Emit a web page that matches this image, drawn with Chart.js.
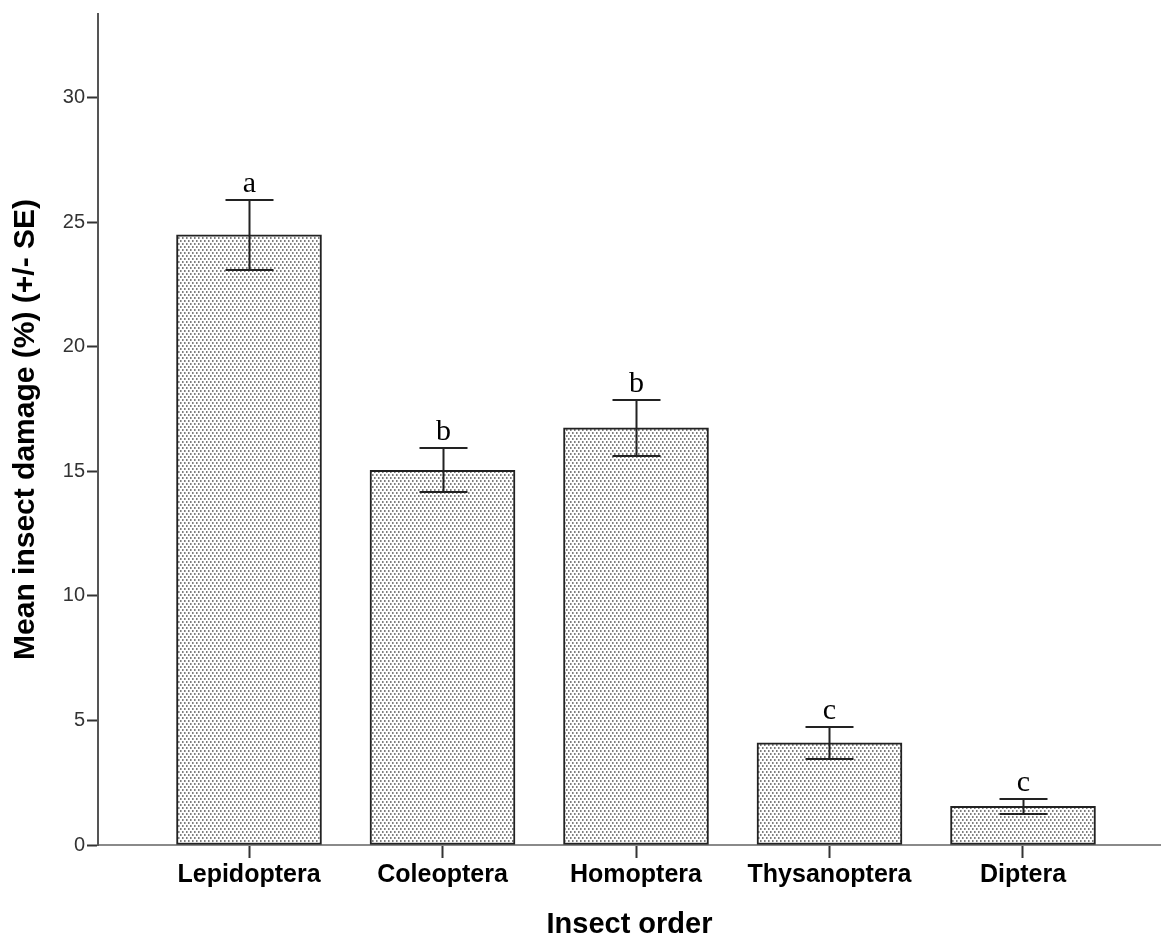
<!DOCTYPE html>
<html>
<head>
<meta charset="utf-8">
<script src="https://cdn.jsdelivr.net/npm/chart.js@4/dist/chart.umd.min.js"></script>
<style>
  html, body { margin: 0; padding: 0; background: #fff; }
  #wrap { width: 1161px; height: 937px; position: relative; }
</style>
</head>
<body>
<div id="wrap"><canvas id="damageChart"></canvas></div>
<script>
// insect orders on the x axis
const categories = ['Lepidoptera', 'Coleoptera', 'Homoptera', 'Thysanoptera', 'Diptera'];
// mean damage (%) and standard error
const means = [24.5, 15.05, 16.75, 4.1, 1.55];
const seValues = [1.4, 0.88, 1.12, 0.63, 0.31];
// significance letters above the bars
const groupLetters = ['a', 'b', 'b', 'c', 'c'];
// y axis tick values
const yTicks = [0, 5, 10, 15, 20, 25, 30];

const sansFont = '"Liberation Sans", Arial, sans-serif';
const serifFont = '"Liberation Serif", "Times New Roman", serif';

// dotted fill for the bars
function makeDotPattern() {
    const tile = document.createElement('canvas');
    tile.width = 4;
    tile.height = 6;
    const t = tile.getContext('2d');
    t.fillStyle = '#ffffff';
    t.fillRect(0, 0, 4, 6);
    t.fillStyle = '#7e7e7e';
    t.fillRect(0, 0, 1, 2);
    t.fillRect(2, 3, 1, 2);
    t.fillStyle = '#b4b4b4';
    t.fillRect(1, 0, 1, 2);
    t.fillRect(3, 3, 1, 2);
    return t.createPattern(tile, 'repeat');
}

// error bars with caps plus the letter above each one
const errorBarPlugin = {
    id: 'errorBars',
    afterDatasetsDraw(chart) {
        const ctx = chart.ctx;
        const xs = chart.scales.x;
        const ys = chart.scales.y;
        const capHalf = 24;
        ctx.save();
        ctx.strokeStyle = '#222';
        ctx.lineWidth = 2;
        categories.forEach((c, i) => {
            const x = Math.round(xs.getPixelForValue(i)) + 0.5;
            const yHi = Math.round(ys.getPixelForValue(means[i] + seValues[i]));
            const yLo = Math.round(ys.getPixelForValue(means[i] - seValues[i]));
            ctx.beginPath();
            ctx.moveTo(x, yHi);
            ctx.lineTo(x, yLo);
            ctx.moveTo(x - capHalf, yHi);
            ctx.lineTo(x + capHalf, yHi);
            ctx.moveTo(x - capHalf, yLo);
            ctx.lineTo(x + capHalf, yLo);
            ctx.stroke();

            ctx.fillStyle = '#000';
            ctx.font = '30px ' + serifFont;
            ctx.textAlign = 'center';
            ctx.textBaseline = 'alphabetic';
            ctx.fillText(groupLetters[i], x, yHi - 8);
        });
        ctx.restore();
    }
};

function initChart() {
    const ctx = document.getElementById('damageChart').getContext('2d');

    new Chart(ctx, {
        type: 'bar',
        data: {
            datasets: [{
                data: categories.map((c, i) => ({ x: i, y: means[i] })),
                backgroundColor: makeDotPattern(),
                borderColor: '#222',
                borderWidth: 2,
                borderSkipped: false,
                barThickness: 145
            }]
        },
        options: {
            responsive: true,
            maintainAspectRatio: false,
            animation: false,
            layout: { padding: { top: 13, left: 0, right: 0, bottom: 0 } },
            plugins: {
                legend: { display: false },
                tooltip: { enabled: false }
            },
            scales: {
                x: {
                    type: 'linear',
                    offset: false,
                    min: -0.7804,
                    max: 4.7132,
                    afterBuildTicks(scale) {
                        scale.ticks = categories.map((c, i) => ({ value: i }));
                    },
                    afterFit(scale) {
                        scale.height = 92;
                    },
                    grid: {
                        offset: false,
                        drawOnChartArea: false,
                        drawTicks: true,
                        tickLength: 13,
                        tickWidth: 2,
                        tickColor: '#333'
                    },
                    border: { display: true, color: '#8a8a8a', width: 2 },
                    ticks: {
                        autoSkip: false,
                        maxRotation: 0,
                        padding: 2,
                        color: '#000',
                        font: { family: sansFont, size: 25, weight: 'bold' },
                        callback: (v) => categories[v]
                    },
                    title: {
                        display: true,
                        text: 'Insect order',
                        color: '#000',
                        font: { family: sansFont, size: 29, weight: 'bold', lineHeight: 1 },
                        padding: { top: 0, bottom: -2 }
                    }
                },
                y: {
                    min: 0,
                    max: 33.37,
                    afterBuildTicks(scale) {
                        scale.ticks = yTicks.map(v => ({ value: v }));
                    },
                    afterFit(scale) {
                        scale.width = 98;
                    },
                    grid: {
                        drawOnChartArea: false,
                        drawTicks: true,
                        tickLength: 11,
                        tickWidth: 2,
                        tickColor: '#333'
                    },
                    border: { display: true, color: '#555', width: 2 },
                    ticks: {
                        padding: 2,
                        color: '#333',
                        font: { family: sansFont, size: 20 }
                    },
                    title: {
                        display: true,
                        text: 'Mean insect damage (%) (+/- SE)',
                        color: '#000',
                        font: { family: sansFont, size: 30, weight: 'bold', lineHeight: 1 },
                        padding: { top: 11, bottom: 0 }
                    }
                }
            }
        },
        plugins: [errorBarPlugin]
    });
}

document.addEventListener('DOMContentLoaded', initChart);
</script>
</body>
</html>
